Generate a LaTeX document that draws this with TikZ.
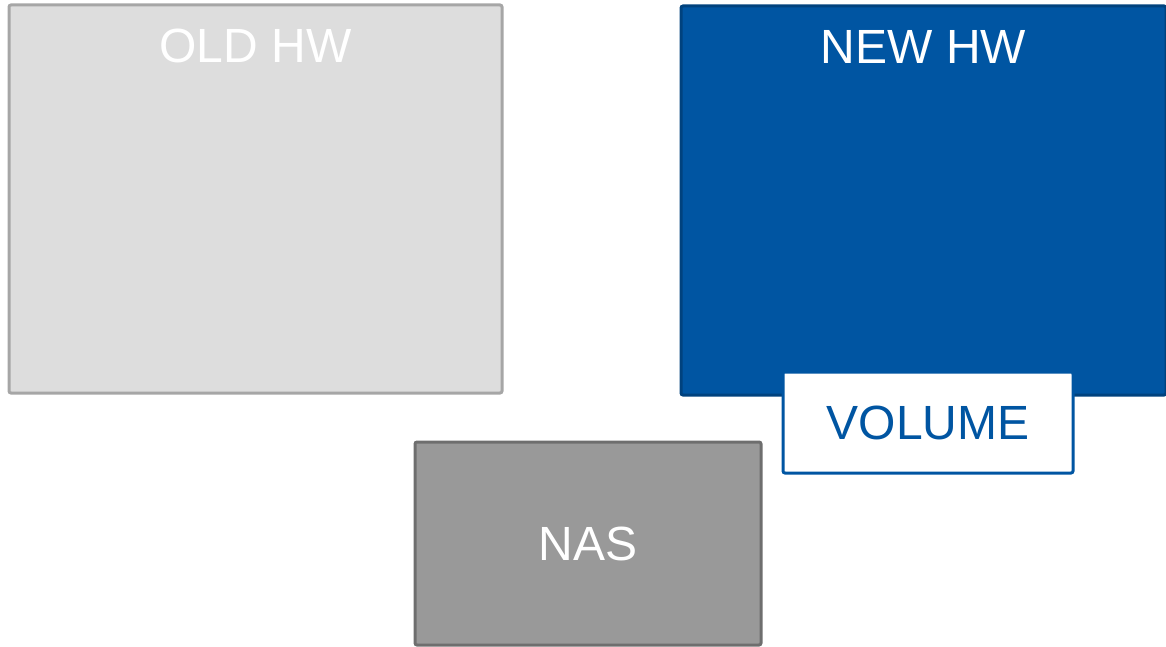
\documentclass[tikz,border=0pt]{standalone}
\usepackage{fontspec}
\setmainfont{Liberation Sans}
\definecolor{oldfill}{HTML}{DDDDDD}
\definecolor{oldline}{HTML}{A6A6A6}
\definecolor{hwblue}{HTML}{0055A2}
\definecolor{hwline}{HTML}{00427E}
\definecolor{nasfill}{HTML}{999999}
\definecolor{nasline}{HTML}{6E6E6E}

\begin{document}
\begin{tikzpicture}[x=0.5pt, y=-0.5pt,
		box/.style={rectangle,draw,line width=1.5pt,outer sep=0pt,rounded corners=1pt,anchor=north west,
			font=\fontsize{24}{28}\selectfont},
		hw label/.style={anchor=base,yshift=-28.75pt,text=white,font=\fontsize{24}{28}\selectfont}]
		
		\useasboundingbox (0,0) rectangle (1166,647);
		
		\node[box,fill=oldfill,draw=oldline,minimum width=246.5pt,minimum height=194pt,
			label={[hw label]north:OLD HW}] (old) at (9,5) {};
		\node[box,fill=hwblue,draw=hwline,minimum width=242.5pt,minimum height=194.5pt,
			label={[hw label]north:NEW HW}] (new) at (681,6) {};
		\node[box,fill=white,draw=hwblue,text=hwblue,minimum width=145pt,minimum height=50.5pt] (vol) at (783,372) {VOLUME};
		\node[box,fill=nasfill,draw=nasline,text=white,minimum width=173pt,minimum height=101.5pt] (nas) at (415,442) {NAS};
		\end{tikzpicture}
\end{document}
